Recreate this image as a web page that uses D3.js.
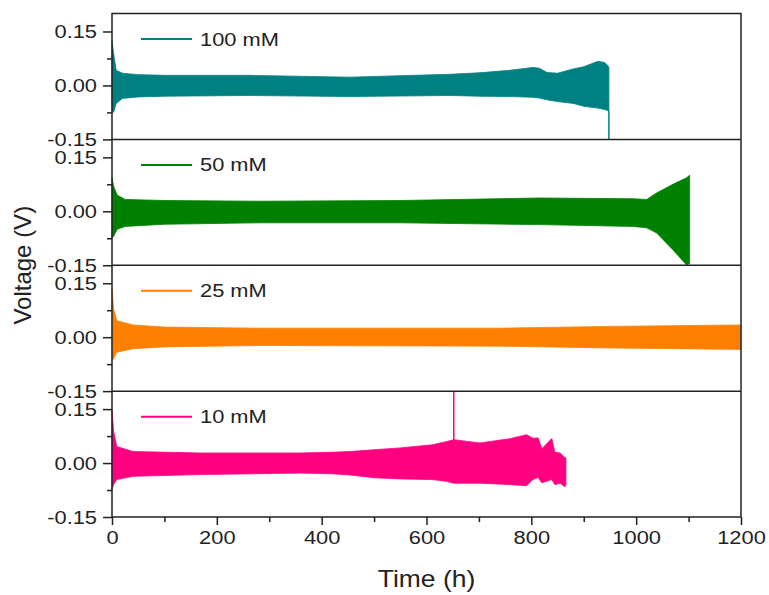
<!DOCTYPE html>
<html>
<head>
<meta charset="utf-8">
<script src="https://cdn.jsdelivr.net/npm/d3@7"></script>
<style>
  body { margin: 0; background: #fff; }
  text { font-family: "Liberation Sans", Arial, sans-serif; fill: #222; }
</style>
</head>
<body>
<div id="chart"></div>
<script>
// panel labels, top to bottom
var labels = ["100 mM", "50 mM", "25 mM", "10 mM"];
var colors = ["#008080", "#008000", "#ff8000", "#ff0080"];

// envelope of the voltage cycling (time in h, upper / lower voltage in V)
var t100  = [0, 3, 8, 20, 50, 100, 263, 454, 645, 700, 759, 803, 815, 830, 850, 880, 900, 927, 940, 946, 948];
var hi100 = [0.125, 0.09, 0.042, 0.034, 0.030, 0.028, 0.028, 0.023, 0.031, 0.035, 0.042, 0.050, 0.048, 0.036, 0.034, 0.046, 0.052, 0.067, 0.064, 0.055, 0.050];
var lo100 = [-0.07, -0.075, -0.05, -0.036, -0.032, -0.030, -0.028, -0.031, -0.028, -0.030, -0.031, -0.033, -0.035, -0.040, -0.045, -0.050, -0.058, -0.063, -0.067, -0.070, -0.070];

var t50  = [0, 3, 10, 25, 100, 282, 549, 816, 994, 1020, 1039, 1070, 1096, 1102];
var hi50 = [0.093, 0.07, 0.045, 0.033, 0.030, 0.028, 0.030, 0.037, 0.035, 0.033, 0.051, 0.075, 0.093, 0.100];
var lo50 = [-0.074, -0.07, -0.05, -0.042, -0.036, -0.032, -0.032, -0.037, -0.042, -0.046, -0.060, -0.107, -0.149, -0.145];

var t25  = [0, 3, 9, 40, 100, 282, 500, 740, 950, 1200];
var hi25 = [0.134, 0.08, 0.046, 0.034, 0.028, 0.025, 0.025, 0.025, 0.030, 0.034];
var lo25 = [-0.065, -0.06, -0.042, -0.032, -0.027, -0.023, -0.024, -0.025, -0.030, -0.034];

var t10  = [0, 3, 9, 40, 168, 359, 420, 454, 500, 549, 612, 639, 652, 702, 760, 791, 803, 813, 820, 839, 845, 855, 864, 866];
var hi10 = [0.148, 0.09, 0.046, 0.032, 0.028, 0.028, 0.030, 0.032, 0.037, 0.042, 0.051, 0.060, 0.065, 0.056, 0.068, 0.079, 0.069, 0.070, 0.040, 0.068, 0.030, 0.028, 0.015, 0.015];
var lo10 = [-0.074, -0.06, -0.046, -0.037, -0.032, -0.028, -0.030, -0.033, -0.041, -0.044, -0.046, -0.051, -0.056, -0.056, -0.060, -0.063, -0.046, -0.040, -0.055, -0.046, -0.060, -0.056, -0.066, -0.060];

// isolated vertical excursions: panel index, time, from, to
var spikes = [
  {panel: 0, t: 948, from: -0.07, to: -0.15},
  {panel: 3, t: 652, from: 0.06, to: 0.2}
];

var xTicks = [0, 200, 400, 600, 800, 1000, 1200];
var yTicks = [-0.15, 0, 0.15];

(function() {
  var series = [
    {t: t100, hi: hi100, lo: lo100},
    {t: t50, hi: hi50, lo: lo50},
    {t: t25, hi: hi25, lo: lo25},
    {t: t10, hi: hi10, lo: lo10}
  ];

  var W = 769, H = 595,
      pLeft = 112, pRight = 741, pTop = 13.5, pBottom = 517,
      ph = (pBottom - pTop) / 4,
      sx = 1.15;  // reference text is a little stretched horizontally

  var svg = d3.select("#chart").append("svg")
      .attr("width", W).attr("height", H);

  var x = d3.scaleLinear().domain([0, 1200]).range([pLeft, pRight]);

  series.forEach(function(s, i) {
    var y0 = pTop + i * ph, y1 = y0 + ph;
    var y = d3.scaleLinear().domain([-0.15, 0.2]).range([y1, y0]);
    var g = svg.append("g");

    var pts = s.t.map(function(d, k) { return {t: d, hi: s.hi[k], lo: s.lo[k]}; });
    g.append("path")
      .datum(pts)
      .attr("d", d3.area().x(function(d) { return x(d.t); })
        .y0(function(d) { return y(d.lo); })
        .y1(function(d) { return y(d.hi); }))
      .attr("fill", colors[i])
      .attr("stroke", colors[i])
      .attr("stroke-width", 0.8);

    spikes.filter(function(d) { return d.panel === i; }).forEach(function(d) {
      g.append("line")
        .attr("x1", x(d.t)).attr("x2", x(d.t))
        .attr("y1", y(d.from)).attr("y2", y(d.to))
        .attr("stroke", colors[i]).attr("stroke-width", 1.5);
    });

    // left axis, major + minor ticks
    var ax = g.append("g").attr("transform", "translate(" + pLeft + ",0)")
      .call(d3.axisLeft(y).tickValues(yTicks).tickSize(9).tickPadding(6)
        .tickFormat(function(d) { return d.toFixed(2); }));
    ax.select(".domain").remove();
    ax.attr("font-size", 19).attr("font-family", "Liberation Sans, Arial, sans-serif");
    ax.selectAll("line").attr("stroke", "#222").attr("stroke-width", 1.5);
    ax.selectAll("text").attr("fill", "#222")
      .attr("x", -15 / sx).attr("transform", "scale(" + sx + ",1)");
    var mn = g.append("g").attr("transform", "translate(" + pLeft + ",0)")
      .call(d3.axisLeft(y).tickValues([-0.075, 0.075]).tickSize(5).tickFormat(""));
    mn.select(".domain").remove();
    mn.selectAll("line").attr("stroke", "#222").attr("stroke-width", 1.5);

    // legend
    g.append("line")
      .attr("x1", 141).attr("x2", 192)
      .attr("y1", y0 + 25.5).attr("y2", y0 + 25.5)
      .attr("stroke", colors[i]).attr("stroke-width", 2);
    g.append("text")
      .attr("transform", "translate(200," + (y0 + 32) + ") scale(" + sx + ",1)")
      .attr("font-size", 19)
      .text(labels[i]);

    if (i > 0) {
      svg.append("line")
        .attr("x1", pLeft).attr("x2", pRight)
        .attr("y1", y0).attr("y2", y0)
        .attr("stroke", "#222").attr("stroke-width", 1.5);
    }
  });

  // frame
  svg.append("rect")
    .attr("x", pLeft).attr("y", pTop)
    .attr("width", pRight - pLeft).attr("height", pBottom - pTop)
    .attr("fill", "none").attr("stroke", "#222").attr("stroke-width", 1.5);

  // bottom axis
  var bx = svg.append("g").attr("transform", "translate(0," + pBottom + ")")
    .call(d3.axisBottom(x).tickValues(xTicks).tickSize(8).tickPadding(6)
      .tickFormat(d3.format("d")));
  bx.select(".domain").remove();
  bx.attr("font-size", 19).attr("font-family", "Liberation Sans, Arial, sans-serif");
  bx.selectAll("line").attr("stroke", "#222").attr("stroke-width", 1.5);
  bx.selectAll("text").attr("fill", "#222").attr("transform", "scale(" + sx + ",1)");
  var bm = svg.append("g").attr("transform", "translate(0," + pBottom + ")")
    .call(d3.axisBottom(x).tickValues([100, 300, 500, 700, 900, 1100]).tickSize(5).tickFormat(""));
  bm.select(".domain").remove();
  bm.selectAll("line").attr("stroke", "#222").attr("stroke-width", 1.5);

  // axis titles
  svg.append("text")
    .attr("transform", "translate(" + ((pLeft + pRight) / 2) + ",587) scale(" + sx + ",1)")
    .attr("text-anchor", "middle").attr("font-size", 23)
    .text("Time (h)");
  svg.append("text")
    .attr("transform", "translate(31," + ((pTop + pBottom) / 2) + ") rotate(-90)")
    .attr("text-anchor", "middle").attr("font-size", 24)
    .text("Voltage (V)");
})();
</script>
</body>
</html>
